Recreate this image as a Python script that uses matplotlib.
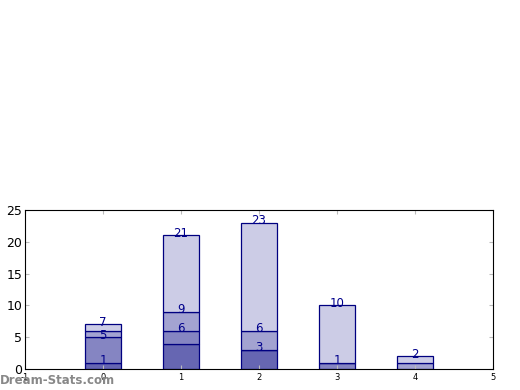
import matplotlib
matplotlib.use("Agg")
import matplotlib.pyplot as plt
import numpy as np

categories = [0, 1, 2, 3, 4]
s1 = [1, 4, 3, 0, 0]
s2 = [4, 2, 0, 1, 0]
s3 = [1, 3, 3, 0, 1]
s4 = [1, 12, 17, 9, 1]
series = [s1, s2, s3, s4]
colors = ["#6666b2", "#8585c2", "#a3a3d1", "#ccccE6"]

# labels: (category, value)
label_x = [0, 0, 0, 1, 1, 1, 2, 2, 2, 3, 3, 4]
label_v = [1, 5, 7, 6, 9, 21, 3, 6, 23, 1, 10, 2]

xticks = [-1, 0, 1, 2, 3, 4, 5]
yticks = [0, 5, 10, 15, 20, 25]

fig = plt.figure(figsize=(5.2, 3.9), dpi=100)
ax = fig.add_axes([0.048, 0.054, 0.9, 0.4075])

bottom = np.zeros(len(categories))
for vals, c in zip(series, colors):
    ax.bar(categories, vals, width=0.45, bottom=bottom, color=c,
           edgecolor="#000080", linewidth=0.9)
    bottom += np.array(vals)

for x, v in zip(label_x, label_v):
    ax.annotate(str(v), (x, v), xytext=(0, 1.5), textcoords="offset points",
                ha="center", va="center", color="#00008b", fontsize=8.5)

ax.set_xlim(-1, 5)
ax.set_ylim(0, 25)
ax.set_xticks(xticks)
ax.set_xticklabels([str(t) for t in xticks], fontsize=6)
ax.set_yticks(yticks)
ax.set_yticklabels([str(t) for t in yticks], fontsize=9)
ax.tick_params(direction="in", top=True, right=True, length=3, color="#bbbbbb")
ax.tick_params(axis="x", pad=3)
ax.tick_params(axis="y", pad=2)

fig.text(0.0, 0.008, "Dream-Stats.com", fontsize=8.5, color="#888888",
         fontweight="semibold", ha="left", va="bottom")

fig.savefig("out.png", dpi=100)
